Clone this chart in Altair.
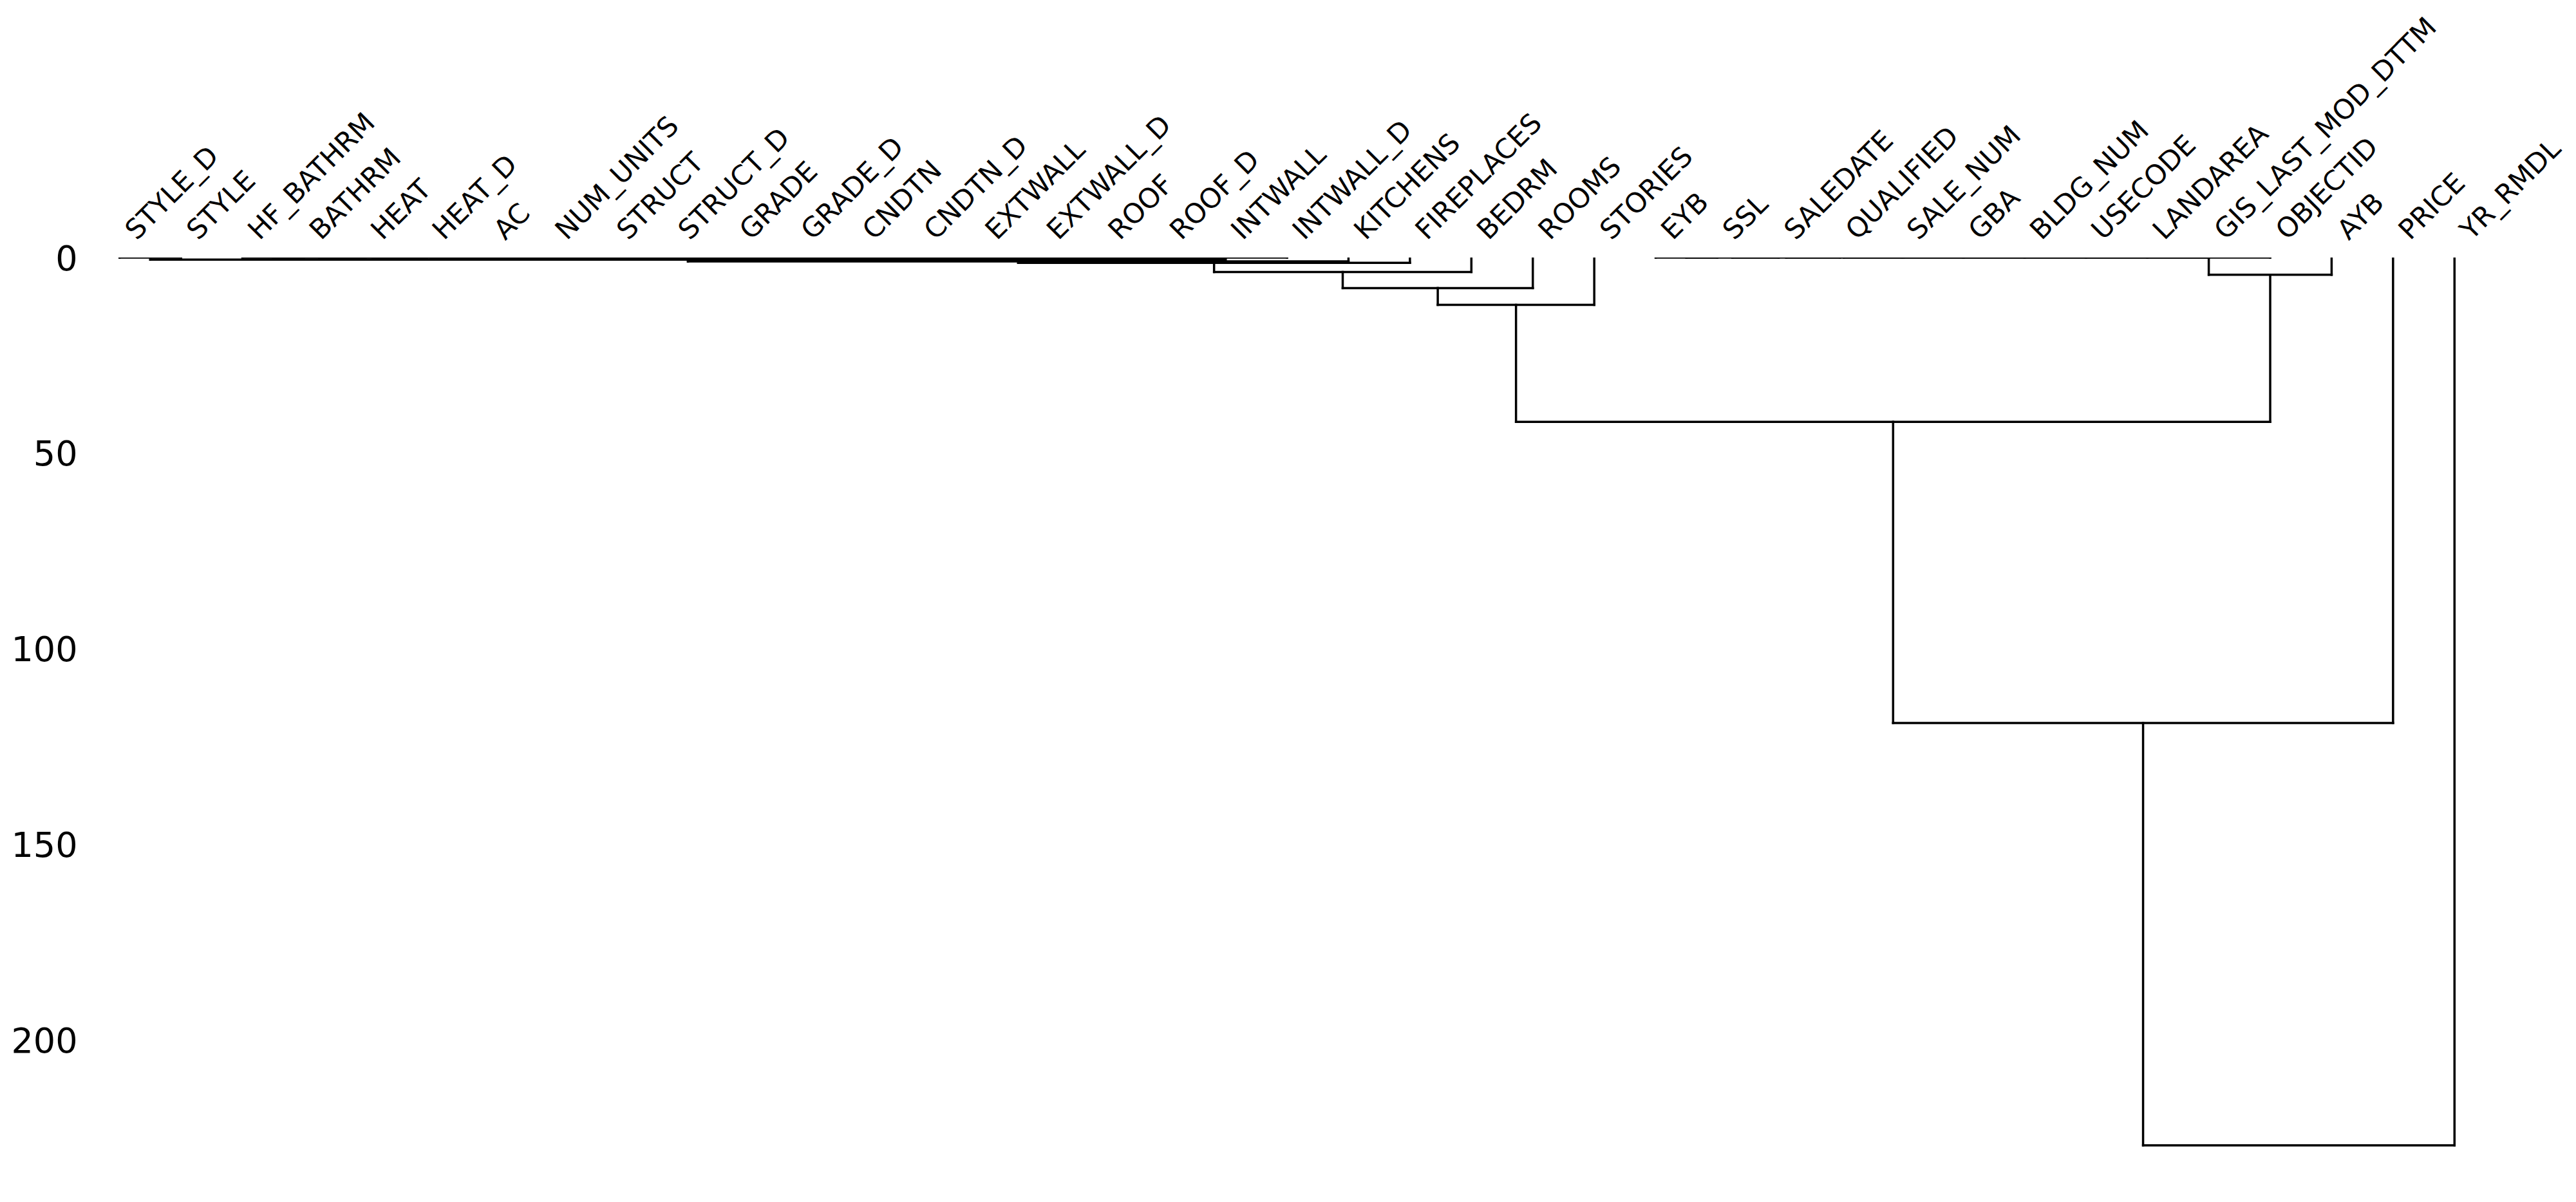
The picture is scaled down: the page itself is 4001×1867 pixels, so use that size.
import altair as alt
import pandas as pd

labels = ["STYLE_D", "STYLE", "HF_BATHRM", "BATHRM", "HEAT", "HEAT_D", "AC",
          "NUM_UNITS", "STRUCT", "STRUCT_D", "GRADE", "GRADE_D", "CNDTN",
          "CNDTN_D", "EXTWALL", "EXTWALL_D", "ROOF", "ROOF_D", "INTWALL",
          "INTWALL_D", "KITCHENS", "FIREPLACES", "BEDRM", "ROOMS", "STORIES",
          "EYB", "SSL", "SALEDATE", "QUALIFIED", "SALE_NUM", "GBA", "BLDG_NUM",
          "USECODE", "LANDAREA", "GIS_LAST_MOD_DTTM", "OBJECTID", "AYB",
          "PRICE", "YR_RMDL"]

# linkage rows (scipy style): leaves 0..38, new clusters numbered from 39
merge_left = [0, 2, 40, 41, 42, 43, 44, 45, 46, 47, 48, 49, 50, 51, 52, 53, 54, 55,
              25, 57, 58, 59, 60, 61, 62, 63, 64, 65,
              39, 67, 68, 69, 70, 71, 66, 72, 74, 75]
merge_right = [1, 3, 4, 5, 6, 7, 8, 9, 10, 11, 12, 13, 14, 15, 16, 17, 18, 19,
               26, 27, 28, 29, 30, 31, 32, 33, 34, 35,
               56, 20, 21, 22, 23, 24, 36, 73, 37, 38]
merge_height = [0] * 28 + [0.55, 1.0, 1.35, 3.7, 7.8, 12.1, 4.4, 42.0, 119.0, 227.0]

y_ticks = [0, 50, 100, 150, 200]

n = len(labels)
pos = {i: 5 + 10 * i for i in range(n)}
hgt = {i: 0.0 for i in range(n)}
rows = []
for k, (l, r, h) in enumerate(zip(merge_left, merge_right, merge_height)):
    cid = n + k
    xl, xr = pos[l], pos[r]
    rows.append({"x": xl, "x2": xl, "y": hgt[l], "y2": h})
    rows.append({"x": xr, "x2": xr, "y": hgt[r], "y2": h})
    rows.append({"x": xl, "x2": xr, "y": h, "y2": h})
    pos[cid] = (xl + xr) / 2
    hgt[cid] = h
df = pd.DataFrame(rows)

ymax = max(merge_height) * 1.05
leaf_ticks = [5 + 10 * i for i in range(n)]
label_expr = "[" + ",".join("'" + s + "'" for s in labels) + "][round((datum.value-5)/10)]"

chart = alt.Chart(df).mark_rule(color="black", strokeWidth=3.5, clip=True, strokeCap="square").encode(
    x=alt.X("x:Q", title=None,
            scale=alt.Scale(domain=[0, 10 * n], nice=False, zero=False),
            axis=alt.Axis(orient="top", values=leaf_ticks, labelExpr=label_expr,
                          labelAngle=315, labelAlign="left", labelBaseline="alphabetic",
                          labelFontSize=42.5, labelFont="DejaVu Sans", labelColor="black",
                          labelPadding=26, labelOffset=26, labelLimit=0, ticks=False, tickSize=0,
                          domain=False, grid=False, labelOverlap=False, labelBound=False,
                          labelFlush=False)),
    x2="x2:Q",
    y=alt.Y("y:Q", title=None,
            scale=alt.Scale(domain=[0, ymax], reverse=True, nice=False, zero=False),
            axis=alt.Axis(values=y_ticks, labelFontSize=54, labelFont="DejaVu Sans",
                          labelColor="black", labelPadding=18, labelOffset=3,
                          ticks=False, tickSize=0, domain=False, grid=False,
                          labelOverlap=False, labelBound=False, labelFlush=False)),
    y2="y2:Q",
).properties(
    width=3722, height=1448,
    autosize=alt.AutoSizeParams(type="none"),
    padding={"left": 138, "top": 400, "right": 141, "bottom": 19},
    background="white",
).configure_view(strokeWidth=0)

chart.save("out.html", embed_options={"renderer": "svg", "actions": False})
